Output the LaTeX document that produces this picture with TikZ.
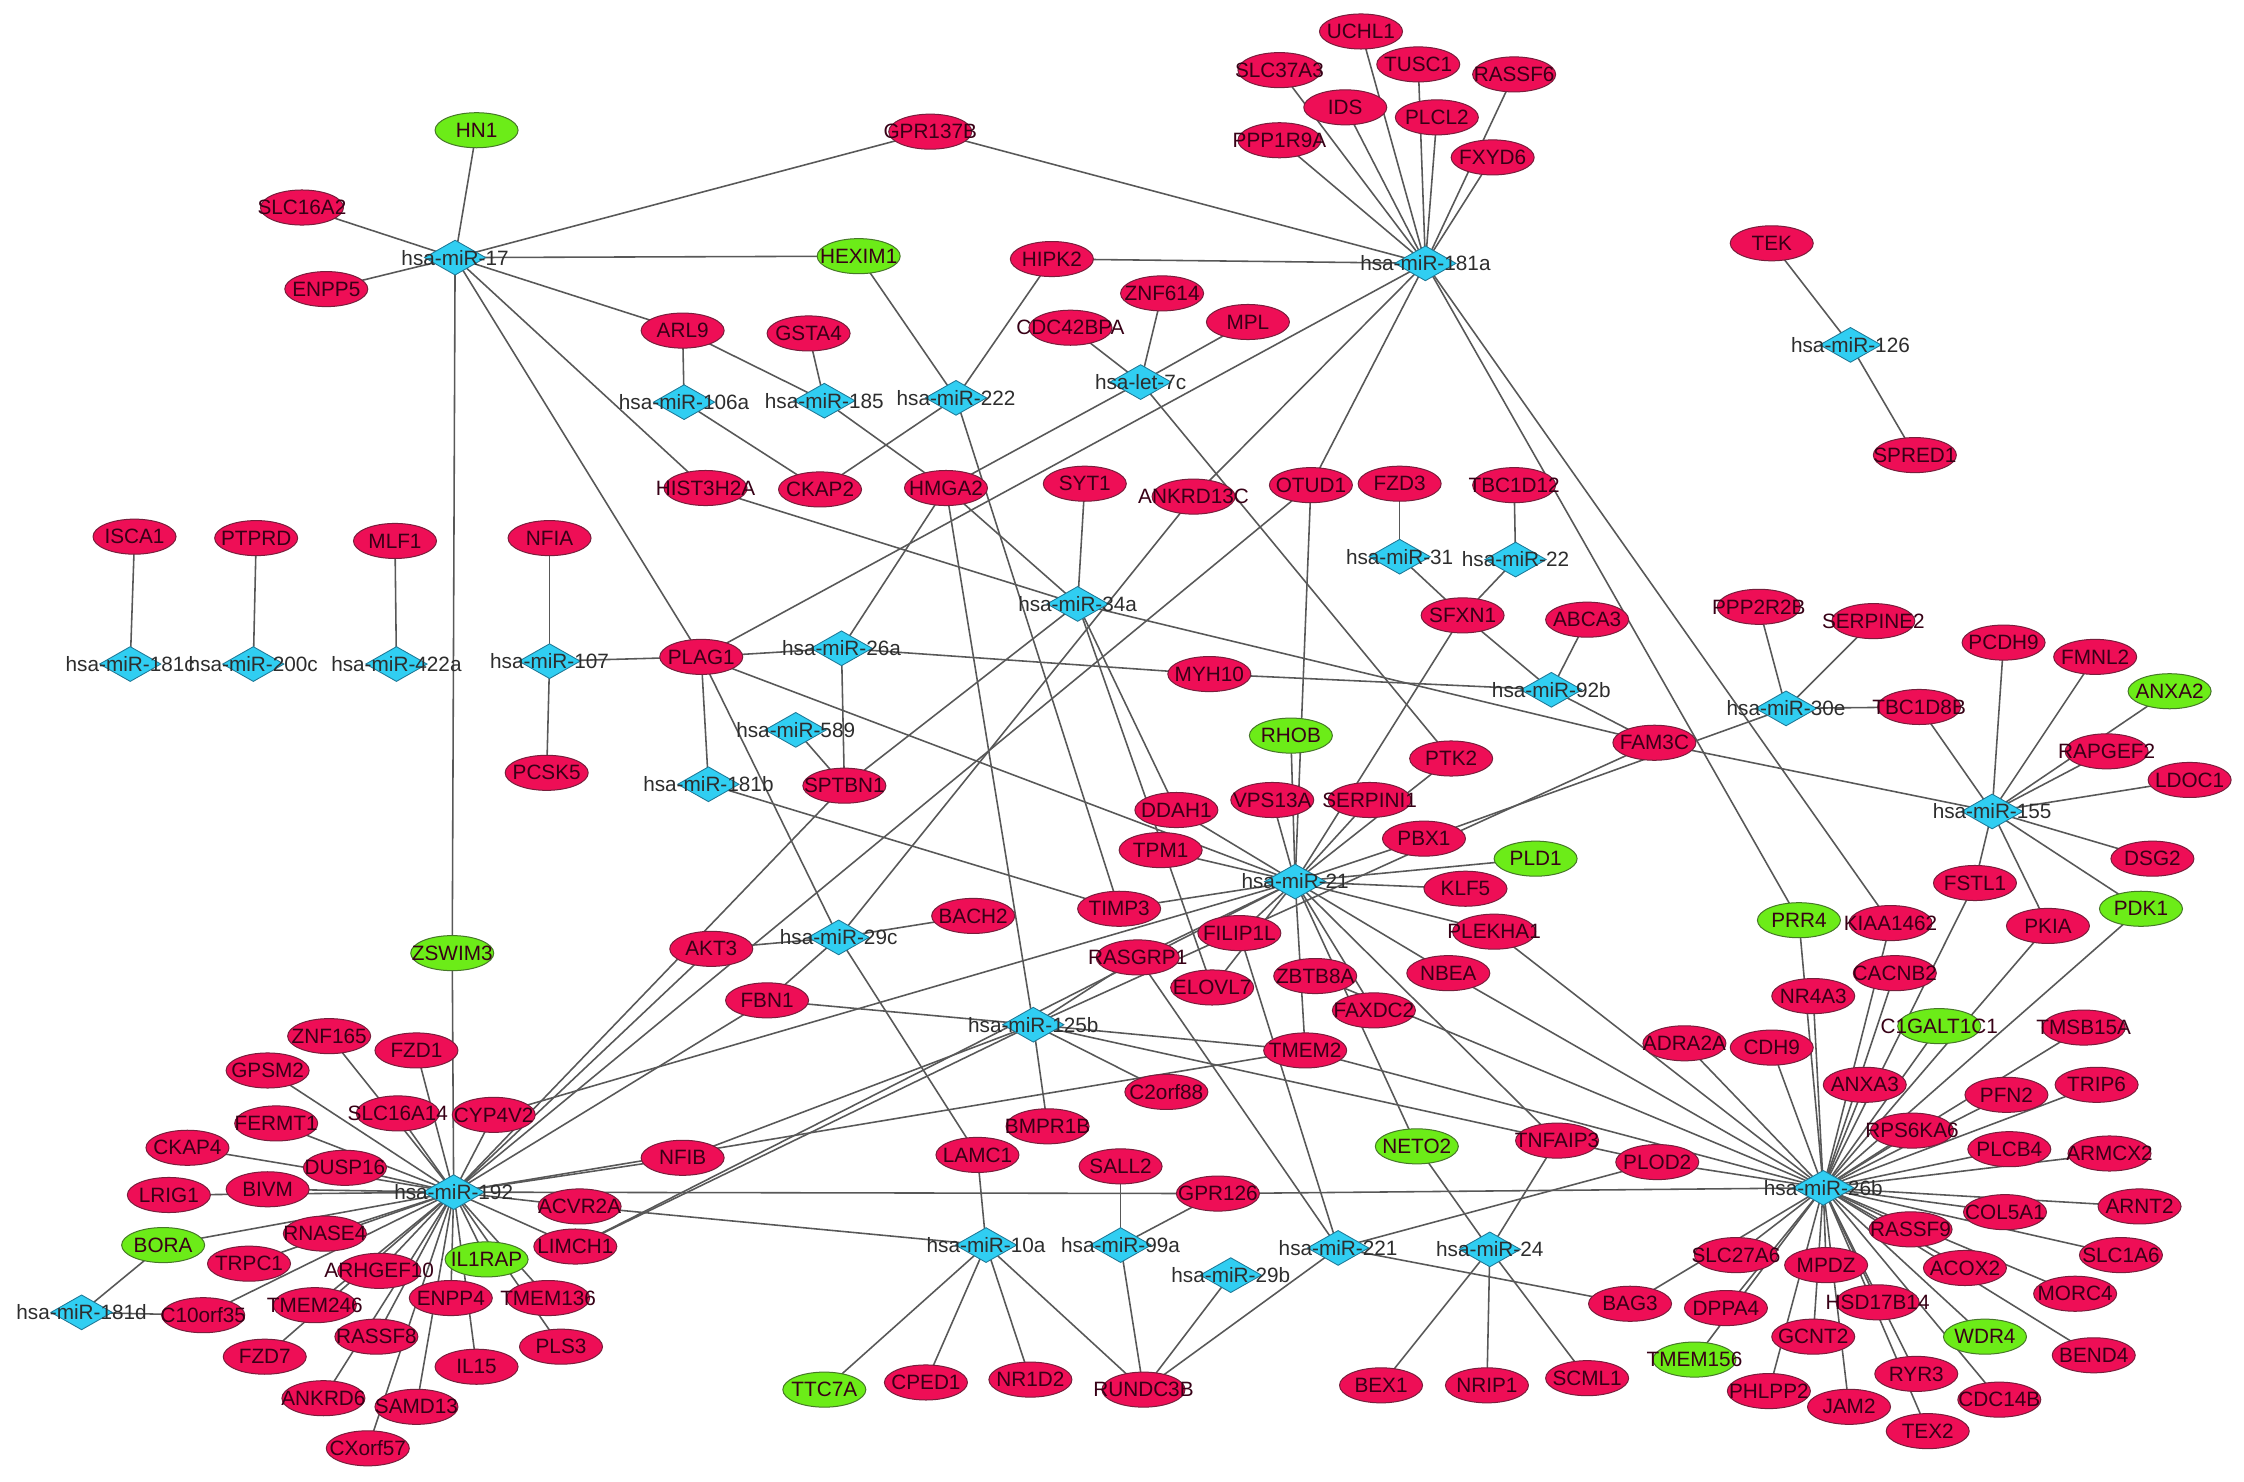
\documentclass[tikz,border=0pt]{standalone}
\usepackage{fontspec}
\setmainfont{Liberation Sans}
\usetikzlibrary{shapes.geometric}
\definecolor{genered}{RGB}{238,14,86}
\definecolor{genegreen}{RGB}{108,236,24}
\definecolor{mircyan}{RGB}{48,206,242}
\definecolor{edgegray}{RGB}{88,88,88}
\definecolor{genetext}{RGB}{55,0,22}
\definecolor{mirtext}{RGB}{45,45,45}
\pgfdeclarelayer{bglayer}
\pgfdeclarelayer{edgelayer}
\pgfsetlayers{bglayer,edgelayer,main}
\newcommand\GeneR[3]{\node[gene] (#1) at (#2,#3) {\makebox[0pt]{#1}};}
\newcommand\GeneG[3]{\node[gene,fill=genegreen,draw={rgb,255:red,70;green,120;blue,40}] (#1) at (#2,#3) {\makebox[0pt]{#1}};}
\newcommand\MiR[4]{\node[mirna] (#1) at (#2,#3) {\makebox[0pt]{#4}};}
\begin{document}
\begin{tikzpicture}[x=1pt,y={(0pt,-1pt)},
  gene/.style={ellipse,fill=genered,draw={rgb,255:red,120;green,30;blue,60},line width=0.7pt,
    minimum width=58pt,minimum height=24.5pt,inner sep=0pt,text=genetext,
    font=\fontsize{14.5}{16}\selectfont},
  mirna/.style={diamond,fill=mircyan,draw={rgb,255:red,30;green,120;blue,150},line width=0.6pt,
    minimum width=43pt,minimum height=24.5pt,inner sep=0pt,text=mirtext,
    font=\fontsize{14.5}{16}\selectfont},
  edge/.style={draw=edgegray,line width=1.1pt}]
\begin{pgfonlayer}{bglayer}
\fill[white] (0,0) rectangle (1568,1035);
\end{pgfonlayer}
\useasboundingbox (0,0) rectangle (1568,1035);
% miRNAs
\MiR{m17}{318}{180}{hsa-miR-17}
\MiR{m181a}{996}{184}{hsa-miR-181a}
\MiR{m126}{1293}{241}{hsa-miR-126}
\MiR{let7c}{797}{267}{hsa-let-7c}
\MiR{m106a}{478}{281}{hsa-miR-106a}
\MiR{m185}{576}{280}{hsa-miR-185}
\MiR{m222}{668}{278}{hsa-miR-222}
\MiR{m181c}{91}{464}{hsa-miR-181c}
\MiR{m200c}{177}{464}{hsa-miR-200c}
\MiR{m422a}{277}{464}{hsa-miR-422a}
\MiR{m107}{384}{462}{hsa-miR-107}
\MiR{m31}{978}{389}{hsa-miR-31}
\MiR{m22}{1059}{391}{hsa-miR-22}
\MiR{m34a}{753}{422}{hsa-miR-34a}
\MiR{m26a}{588}{453}{hsa-miR-26a}
\MiR{m589}{556}{510}{hsa-miR-589}
\MiR{m181b}{495}{548}{hsa-miR-181b}
\MiR{m92b}{1084}{482}{hsa-miR-92b}
\MiR{m30e}{1248}{495}{hsa-miR-30e}
\MiR{m155}{1392}{567}{hsa-miR-155}
\MiR{m21}{905}{616}{hsa-miR-21}
\MiR{m29c}{586}{655}{hsa-miR-29c}
\MiR{m125b}{722}{716}{hsa-miR-125b}
\MiR{m192}{317}{833}{hsa-miR-192}
\MiR{m26b}{1274}{830}{hsa-miR-26b}
\MiR{m10a}{689}{870}{hsa-miR-10a}
\MiR{m99a}{783}{870}{hsa-miR-99a}
\MiR{m221}{935}{872}{hsa-miR-221}
\MiR{m24}{1041}{873}{hsa-miR-24}
\MiR{m29b}{860}{891}{hsa-miR-29b}
\MiR{m181d}{57}{917}{hsa-miR-181d}
% genes (red)
\GeneR{UCHL1}{951}{22}
\GeneR{SLC37A3}{894}{49}
\GeneR{TUSC1}{991}{45}
\GeneR{RASSF6}{1058}{52}
\GeneR{IDS}{940}{75}
\GeneR{PLCL2}{1004}{82}
\GeneR{PPP1R9A}{894}{98}
\GeneR{FXYD6}{1043}{110}
\GeneR{GPR137B}{650}{92}
\GeneR{SLC16A2}{211}{145}
\GeneR{ENPP5}{228}{202}
\GeneR{HIPK2}{735}{181}
\GeneR{ZNF614}{812}{205}
\GeneR{CDC42BPA}{748}{229}
\GeneR{MPL}{872}{225}
\GeneR{TEK}{1238}{170}
\GeneR{SPRED1}{1338}{318}
\GeneR{ARL9}{477}{231}
\GeneR{GSTA4}{565}{233}
\GeneR{HIST3H2A}{493}{341}
\GeneR{CKAP2}{573}{342}
\GeneR{HMGA2}{661}{341}
\GeneR{SYT1}{758}{338}
\GeneR{ANKRD13C}{834}{347}
\GeneR{OTUD1}{916}{339}
\GeneR{FZD3}{978}{338}
\GeneR{TBC1D12}{1058}{339}
\GeneR{ISCA1}{94}{375}
\GeneR{PTPRD}{179}{376}
\GeneR{MLF1}{276}{378}
\GeneR{NFIA}{384}{376}
\GeneR{PCSK5}{382}{540}
\GeneR{PLAG1}{490}{459}
\GeneR{SPTBN1}{590}{549}
\GeneR{MYH10}{845}{471}
\GeneR{SFXN1}{1022}{430}
\GeneR{ABCA3}{1109}{433}
\GeneR{PTK2}{1014}{530}
\GeneR{FAM3C}{1156}{519}
\GeneR{PPP2R2B}{1229}{424}
\GeneR{SERPINE2}{1309}{434}
\GeneR{TBC1D8B}{1341}{494}
\GeneR{PCDH9}{1400}{449}
\GeneR{FMNL2}{1464}{459}
\GeneR{RAPGEF2}{1472}{525}
\GeneR{LDOC1}{1530}{545}
\GeneR{DSG2}{1504}{600}
\GeneR{FSTL1}{1380}{617}
\GeneR{PKIA}{1431}{647}
\GeneR{CACNB2}{1324}{680}
\GeneR{NR4A3}{1267}{696}
\GeneR{TMSB15A}{1456}{718}
\GeneR{ADRA2A}{1177}{729}
\GeneR{CDH9}{1238}{732}
\GeneR{ANXA3}{1303}{758}
\GeneR{PFN2}{1402}{765}
\GeneR{TRIP6}{1465}{758}
\GeneR{RPS6KA6}{1336}{790}
\GeneR{PLCB4}{1404}{803}
\GeneR{ARMCX2}{1474}{806}
\GeneR{COL5A1}{1401}{847}
\GeneR{ARNT2}{1495}{843}
\GeneR{RASSF9}{1335}{859}
\GeneR{SLC1A6}{1482}{877}
\GeneR{SLC27A6}{1213}{877}
\GeneR{MPDZ}{1276}{884}
\GeneR{ACOX2}{1373}{886}
\GeneR{MORC4}{1450}{904}
\GeneR{HSD17B14}{1312}{910}
\GeneR{DPPA4}{1206}{914}
\GeneR{BAG3}{1139}{911}
\GeneR{GCNT2}{1267}{934}
\GeneR{BEND4}{1463}{947}
\GeneR{RYR3}{1339}{960}
\GeneR{PHLPP2}{1236}{972}
\GeneR{CDC14B}{1397}{978}
\GeneR{JAM2}{1292}{983}
\GeneR{TEX2}{1347}{1000}
\GeneR{VPS13A}{889}{559}
\GeneR{SERPINI1}{957}{559}
\GeneR{DDAH1}{822}{566}
\GeneR{PBX1}{995}{586}
\GeneR{TPM1}{811}{594}
\GeneR{KLF5}{1024}{621}
\GeneR{TIMP3}{782}{635}
\GeneR{FILIP1L}{866}{652}
\GeneR{PLEKHA1}{1044}{651}
\GeneR{BACH2}{680}{640}
\GeneR{AKT3}{497}{663}
\GeneR{RASGRP1}{795}{669}
\GeneR{ELOVL7}{847}{690}
\GeneR{ZBTB8A}{919}{682}
\GeneR{NBEA}{1012}{680}
\GeneR{FAXDC2}{960}{706}
\GeneR{FBN1}{536}{699}
\GeneR{TMEM2}{912}{734}
\GeneR{C2orf88}{815}{763}
\GeneR{BMPR1B}{732}{787}
\GeneR{TNFAIP3}{1088}{797}
\GeneR{PLOD2}{1158}{812}
\GeneR{LAMC1}{683}{807}
\GeneR{SALL2}{783}{815}
\GeneR{GPR126}{851}{834}
\GeneR{CPED1}{647}{966}
\GeneR{NR1D2}{720}{964}
\GeneR{RUNDC3B}{799}{971}
\GeneR{BEX1}{965}{968}
\GeneR{NRIP1}{1039}{968}
\GeneR{SCML1}{1109}{963}
\GeneR{ZNF165}{230}{724}
\GeneR{FZD1}{291}{734}
\GeneR{GPSM2}{187}{748}
\GeneR{SLC16A14}{278}{778}
\GeneR{CYP4V2}{345}{779}
\GeneR{FERMT1}{193}{785}
\GeneR{CKAP4}{131}{802}
\GeneR{DUSP16}{241}{816}
\GeneR{NFIB}{477}{809}
\GeneR{LRIG1}{118}{835}
\GeneR{BIVM}{187}{831}
\GeneR{ACVR2A}{405}{843}
\GeneR{LIMCH1}{402}{871}
\GeneR{RNASE4}{227}{862}
\GeneR{TRPC1}{174}{883}
\GeneR{ARHGEF10}{265}{888}
\GeneR{TMEM136}{383}{907}
\GeneR{ENPP4}{315}{907}
\GeneR{C10orf35}{142}{919}
\GeneR{TMEM246}{220}{912}
\GeneR{RASSF8}{263}{934}
\GeneR{FZD7}{185}{948}
\GeneR{IL15}{333}{955}
\GeneR{PLS3}{392}{941}
\GeneR{ANKRD6}{226}{977}
\GeneR{SAMD13}{291}{983}
\GeneR{CXorf57}{257}{1012}
% genes (green)
\GeneG{HN1}{333}{91}
\GeneG{HEXIM1}{600}{179}
\GeneG{RHOB}{902}{514}
\GeneG{PLD1}{1073}{600}
\GeneG{ANXA2}{1516}{483}
\GeneG{PDK1}{1496}{635}
\GeneG{PRR4}{1257}{643}
\GeneG{C1GALT1C1}{1355}{717}
\GeneG{NETO2}{990}{801}
\GeneG{WDR4}{1387}{934}
\GeneG{TMEM156}{1184}{950}
\GeneG{TTC7A}{576}{971}
\GeneG{ZSWIM3}{316}{666}
\GeneG{BORA}{114}{870}
\GeneG{IL1RAP}{340}{880}
% label overlapping a neighbour: drawn last
\GeneR{KIAA1462}{1321}{645}
% edges
\begin{pgfonlayer}{edgelayer}
\foreach \a/\b in {
 m17/HN1,m17/SLC16A2,m17/ENPP5,m17/GPR137B,m17/HEXIM1,m17/ARL9,m17/HIST3H2A,m17/PLAG1,m17/ZSWIM3,
 m181a/UCHL1,m181a/SLC37A3,m181a/TUSC1,m181a/RASSF6,m181a/IDS,m181a/PLCL2,m181a/PPP1R9A,m181a/FXYD6,
 m181a/GPR137B,m181a/HIPK2,m181a/PLAG1,m181a/ANKRD13C,m181a/OTUD1,m181a/PRR4,m181a/KIAA1462,
 m126/TEK,m126/SPRED1,
 let7c/CDC42BPA,let7c/ZNF614,let7c/MPL,let7c/HMGA2,let7c/PTK2,
 m106a/ARL9,m106a/CKAP2,m185/GSTA4,m185/ARL9,m185/HMGA2,
 m222/HEXIM1,m222/HIPK2,m222/CKAP2,m222/TIMP3,
 m181c/ISCA1,m200c/PTPRD,m422a/MLF1,m107/NFIA,m107/PCSK5,m107/PLAG1,
 m31/FZD3,m31/SFXN1,m22/TBC1D12,m22/SFXN1,
 m92b/SFXN1,m92b/ABCA3,m92b/MYH10,m92b/FAM3C,
 m26a/PLAG1,m26a/HMGA2,m26a/MYH10,m26a/SPTBN1,m589/SPTBN1,m181b/PLAG1,m181b/TIMP3,
 m29c/PLAG1,m29c/BACH2,m29c/AKT3,m29c/FBN1,m29c/ANKRD13C,m29c/LAMC1,
 m34a/SYT1,m34a/HIST3H2A,m34a/HMGA2,m34a/SPTBN1,m34a/FAM3C,m34a/DDAH1,m34a/ELOVL7,
 m21/RHOB,m21/OTUD1,m21/VPS13A,m21/SERPINI1,m21/SFXN1,m21/PTK2,m21/DDAH1,m21/TPM1,m21/PBX1,
 m21/PLD1,m21/KLF5,m21/PLEKHA1,m21/NBEA,m21/FAXDC2,m21/TMEM2,m21/NETO2,m21/TIMP3,m21/FILIP1L,
 m21/RASGRP1,m21/ELOVL7,m21/TNFAIP3,m21/PLAG1,m21/CYP4V2,m21/LIMCH1,
 m30e/PPP2R2B,m30e/SERPINE2,m30e/TBC1D8B,m30e/PBX1,
 m155/PCDH9,m155/FMNL2,m155/ANXA2,m155/RAPGEF2,m155/LDOC1,m155/DSG2,m155/PDK1,m155/PKIA,
 m155/FSTL1,m155/TBC1D8B,m155/FAM3C,
 m26b/NR4A3,m26b/CACNB2,m26b/KIAA1462,m26b/PRR4,m26b/C1GALT1C1,m26b/TMSB15A,m26b/ADRA2A,
 m26b/CDH9,m26b/ANXA3,m26b/PFN2,m26b/TRIP6,m26b/RPS6KA6,m26b/PLCB4,m26b/ARMCX2,m26b/COL5A1,
 m26b/ARNT2,m26b/RASSF9,m26b/SLC1A6,m26b/SLC27A6,m26b/MPDZ,m26b/ACOX2,m26b/MORC4,m26b/HSD17B14,
 m26b/DPPA4,m26b/GCNT2,m26b/WDR4,m26b/BEND4,m26b/TMEM156,m26b/RYR3,m26b/PHLPP2,m26b/CDC14B,
 m26b/JAM2,m26b/TEX2,m26b/BAG3,m26b/PLOD2,m26b/FSTL1,m26b/PKIA,m26b/PDK1,m26b/GPR126,
 m26b/PLEKHA1,m26b/ZBTB8A,m26b/TMEM2,m26b/NBEA,
 m125b/HMGA2,m125b/FBN1,m125b/FAM3C,m125b/BMPR1B,m125b/C2orf88,m125b/TMEM2,m125b/NFIB,
 m125b/LIMCH1,m125b/RASGRP1,m125b/PLOD2,
 m192/ZSWIM3,m192/ZNF165,m192/FZD1,m192/GPSM2,m192/SLC16A14,m192/CYP4V2,m192/FERMT1,m192/CKAP4,
 m192/DUSP16,m192/LRIG1,m192/BIVM,m192/BORA,m192/RNASE4,m192/TRPC1,m192/ARHGEF10,m192/C10orf35,
 m192/TMEM246,m192/FZD7,m192/RASSF8,m192/ANKRD6,m192/SAMD13,m192/CXorf57,m192/ENPP4,m192/IL15,
 m192/IL1RAP,m192/TMEM136,m192/PLS3,m192/LIMCH1,m192/ACVR2A,m192/NFIB,m192/GPR126,m192/AKT3,
 m192/SPTBN1,m192/OTUD1,m192/FBN1,m192/TMEM2,
 m181d/BORA,m181d/C10orf35,
 m10a/LAMC1,m10a/ACVR2A,m10a/TTC7A,m10a/CPED1,m10a/NR1D2,m10a/RUNDC3B,
 m99a/SALL2,m99a/GPR126,m99a/RUNDC3B,m29b/RUNDC3B,
 m221/RUNDC3B,m221/BAG3,m221/PLOD2,m221/RASGRP1,m221/FILIP1L,
 m24/NETO2,m24/TNFAIP3,m24/BEX1,m24/NRIP1,m24/SCML1}
 \draw[edge] (\a.center) -- (\b.center);
\end{pgfonlayer}
\end{tikzpicture}
\end{document}
